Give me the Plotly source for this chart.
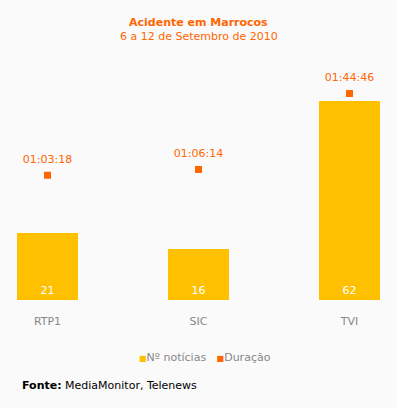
import plotly.graph_objects as go

channels = ["RTP1", "SIC", "TVI"]
noticias = [21, 16, 62]
duracao_labels = ["01:03:18", "01:06:14", "01:44:46"]


def to_seconds(s):
    h, m, sec = (int(p) for p in s.split(":"))
    return h * 3600 + m * 60 + sec


duracao_sec = [to_seconds(s) for s in duracao_labels]
xpos = list(range(len(channels)))

FONT = "DejaVu Sans"
BG = "#fafafa"
BAR = "#ffc000"
ORANGE = "#ff6600"

fig = go.Figure()
fig.add_trace(go.Bar(
    x=xpos, y=noticias, name="Nº notícias", width=0.404,
    marker=dict(color=BAR, line=dict(width=0)),
    text=[str(v) for v in noticias], textposition="inside",
    insidetextanchor="start", textangle=0,
    textfont=dict(family=FONT, size=11, color="white"),
    showlegend=False,
))
fig.add_trace(go.Scatter(
    x=xpos, y=duracao_sec, name="Duração", yaxis="y2",
    mode="markers",
    marker=dict(symbol="square", size=7, color=ORANGE),
    showlegend=False, cliponaxis=False,
))
fig.add_trace(go.Scatter(
    x=xpos, y=duracao_sec, name="Duração (rótulos)", yaxis="y2",
    mode="markers+text",
    marker=dict(symbol="square", size=14, color=ORANGE, opacity=0),
    text=duracao_labels, textposition="top center",
    textfont=dict(family=FONT, size=11, color=ORANGE),
    showlegend=False, hoverinfo="skip", cliponaxis=False,
))

W, H = 397, 408
top, bottom = 75, 108
ph = H - top - bottom


def py(pix):
    return (H - bottom - pix) / ph


annotations = [
    dict(text="<b>Acidente em Marrocos</b>", x=0.5, y=py(22), xref="paper", yref="paper",
         showarrow=False, font=dict(family=FONT, size=11, color=ORANGE), xanchor="center", yanchor="middle"),
    dict(text="6 a 12 de Setembro de 2010", x=0.5, y=py(36), xref="paper", yref="paper",
         showarrow=False, font=dict(family=FONT, size=11, color=ORANGE), xanchor="center", yanchor="middle"),
    dict(text=f"<span style='color:{BAR};font-size:8px'>■</span>Nº notícias&nbsp;&nbsp;&nbsp;"
              f"<span style='color:{ORANGE};font-size:8px'>■</span>Duração",
         x=205 / W, y=py(357), xref="paper", yref="paper", showarrow=False,
         font=dict(family=FONT, size=11, color="#888888"), xanchor="center", yanchor="middle"),
    dict(text="<b>Fonte:</b> MediaMonitor, Telenews", x=20 / W, y=py(385), xref="paper", yref="paper",
         showarrow=False, font=dict(family=FONT, size=11, color="#000000"), xanchor="left", yanchor="middle"),
]

fig.update_layout(
    width=W, height=H,
    margin=dict(l=0, r=0, t=top, b=bottom, pad=0),
    paper_bgcolor=BG, plot_bgcolor=BG,
    xaxis=dict(range=[-0.3146, 2.3146], tickvals=xpos, ticktext=channels,
               showgrid=False, zeroline=False, showline=False, ticks="",
               ticklabelstandoff=13,
               tickfont=dict(family=FONT, size=11, color="#888888"), fixedrange=True),
    yaxis=dict(range=[0, 70], visible=False, showgrid=False, zeroline=False, fixedrange=True),
    yaxis2=dict(range=[0, 6850], visible=False, overlaying="y", showgrid=False, zeroline=False, fixedrange=True),
    annotations=annotations,
    showlegend=False,
    bargap=0,
)

fig.write_html("out.html", config={"displayModeBar": False},
               post_script="document.body.style.margin='0px';")
